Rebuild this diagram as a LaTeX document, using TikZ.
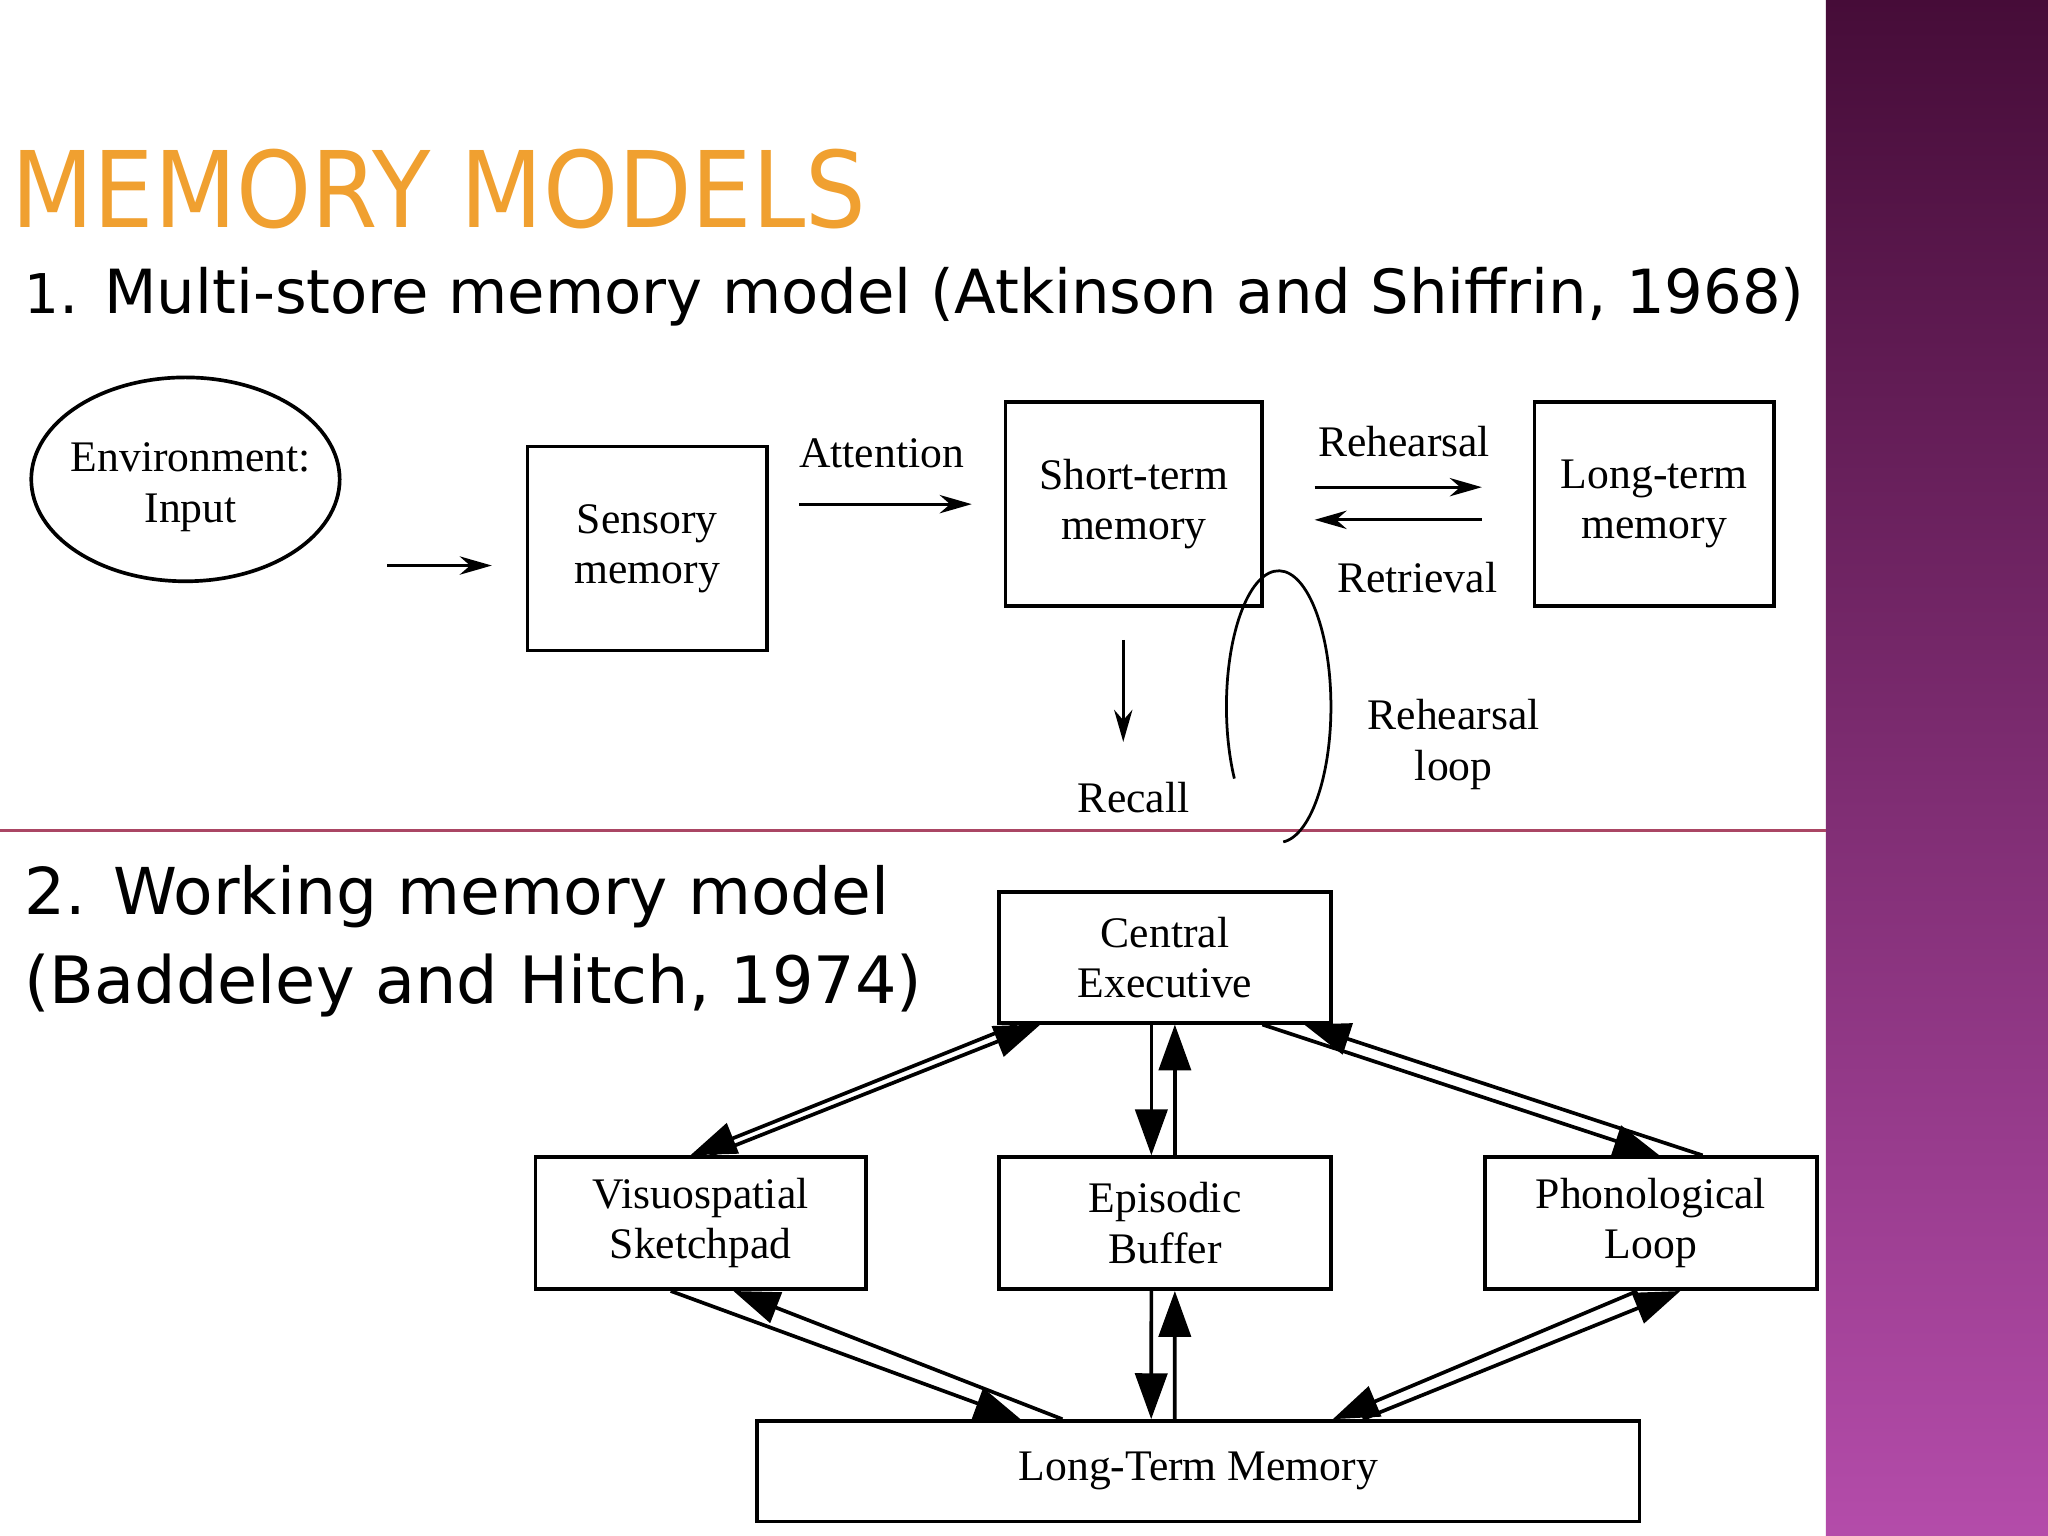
\documentclass[tikz,border=0pt]{standalone}
\usepackage{fontspec}
\usepackage{graphicx}
\setmainfont{Liberation Serif}
\newfontfamily\sans{DejaVu Sans}
\usetikzlibrary{calc,arrows.meta,shapes.geometric}
\definecolor{titleor}{HTML}{F0A030}
\tikzset{
  box/.style={draw,thick,inner sep=0pt,font=\fontsize{9.5}{11}\selectfont,align=center},
  lbl/.style={font=\fontsize{9.5}{11}\selectfont,align=center,inner sep=0pt},
  sarr/.style={-{Stealth[length=7pt,width=4pt]},semithick},
  barr/.style={-{Triangle[length=10pt,width=7pt]},thick},
}
\begin{document}
\begin{tikzpicture}[x=0.01cm,y=-0.01cm]
\useasboundingbox (0,0) rectangle (1568,1176);
\fill[white] (0,0) rectangle (1568,1176);
\shade[top color={rgb,255:red,70;green,12;blue,56},bottom color={rgb,255:red,180;green,76;blue,170}] (1398,0) rectangle (1568,1176);
\draw[color={rgb,255:red,170;green,70;blue,100},semithick] (0,636) -- (1398,636);
% titles
\node[anchor=south west,inner sep=0pt,text=titleor] (title) at (8,176) {\resizebox{6.54cm}{0.6cm}{\sans MEMORY MODELS}};
\node[anchor=base west,inner sep=0pt] (sub1) at (18,240) {\resizebox{13.62cm}{!}{\sans{\small 1}. Multi-store memory model (Atkinson and Shiffrin, 1968)}};
\node[anchor=base west,inner sep=0pt] (sub2a) at (18,700) {\resizebox{6.62cm}{!}{\sans 2. Working memory model}};
\node[anchor=base west,inner sep=0pt] (sub2b) at (18,768) {\resizebox{6.87cm}{!}{\sans (Baddeley and Hitch, 1974)}};
% part 1
\node[draw,thick,ellipse,minimum width=2.36cm,minimum height=1.56cm,inner sep=0pt] (envb) at (142,367) {};
\node[lbl] (env) at (146,373) {Environment:\\Input};
\node[box,minimum width=1.83cm,minimum height=1.56cm] (sens) at (495.5,420) {Sensory\\memory};
\draw[sarr] ($(sens.west)+(-106,13)$) -- ($(sens.west)+(-26,13)$);
\node[lbl] (att) at (675,347) {Attention};
\draw[sarr] ($(att)+(-63,39)$) -- ($(att)+(69,39)$);
\node[box,minimum width=1.96cm,minimum height=1.56cm] (stm) at (868,386) {Short-term\\memory};
\node[box,minimum width=1.83cm,minimum height=1.56cm] (ltm) at (1266.5,386) {Long-term\\memory};
\node[lbl] (reh) at (1075,338) {Rehearsal};
\node[lbl] (ret) at (1085,442) {Retrieval};
\draw[sarr] ($(stm.east)+(39,-13)$) -- ($(ltm.west)+(-39,-13)$);
\draw[sarr] ($(ltm.west)+(-39,12)$) -- ($(stm.east)+(39,12)$);
\node[lbl] (rec) at (868,611) {Recall};
\draw[sarr] ($(rec)+(-8,-121)$) -- ($(rec)+(-8,-43)$);
\draw[semithick] (979,541) ++(85:40 and 104) arc[start angle=85,end angle=-212,x radius=40,y radius=104];
\node[lbl] (loop) at (1113,570) {Rehearsal\\loop};
% part 2
\node[box,minimum width=2.54cm,minimum height=1cm] (ce) at (892,733) {Central\\Executive};
\node[box,minimum width=2.53cm,minimum height=1.01cm] (vis) at (536.5,936.5) {Visuospatial\\Sketchpad};
\node[box,minimum width=2.54cm,minimum height=1.01cm] (epi) at (892,936.5) {Episodic\\Buffer};
\node[box,minimum width=2.54cm,minimum height=1.01cm] (pho) at (1264,936.5) {Phonological\\Loop};
\node[box,minimum width=6.75cm,minimum height=0.77cm] (lt) at (917.5,1126.5) {Long-Term Memory};
\draw[barr] ($(ce.south west)+(15,0)$) -- ($(vis.north west)+(120,0)$);
\draw[barr] ($(vis.north west)+(135,0)$) -- ($(ce.south west)+(33,0)$);
\draw[barr] ($(ce.south west)+(118,0)$) -- ($(epi.north west)+(118,0)$);
\draw[barr] ($(epi.north west)+(136,0)$) -- ($(ce.south west)+(136,0)$);
\draw[barr] ($(ce.south west)+(203,0)$) -- ($(pho.north west)+(135,0)$);
\draw[barr] ($(pho.north west)+(168,0)$) -- ($(ce.south west)+(235,0)$);
\draw[barr] ($(vis.south west)+(105,0)$) -- ($(lt.north west)+(203,0)$);
\draw[barr] ($(lt.north west)+(235,0)$) -- ($(vis.south west)+(153,0)$);
\draw[barr] ($(epi.south west)+(118,0)$) -- ($(lt.north west)+(303,0)$);
\draw[barr] ($(lt.north west)+(321,0)$) -- ($(epi.south west)+(136,0)$);
\draw[barr] ($(pho.south west)+(118,0)$) -- ($(lt.north west)+(442,0)$);
\draw[barr] ($(lt.north west)+(465,0)$) -- ($(pho.south west)+(151,0)$);
\end{tikzpicture}
\end{document}
